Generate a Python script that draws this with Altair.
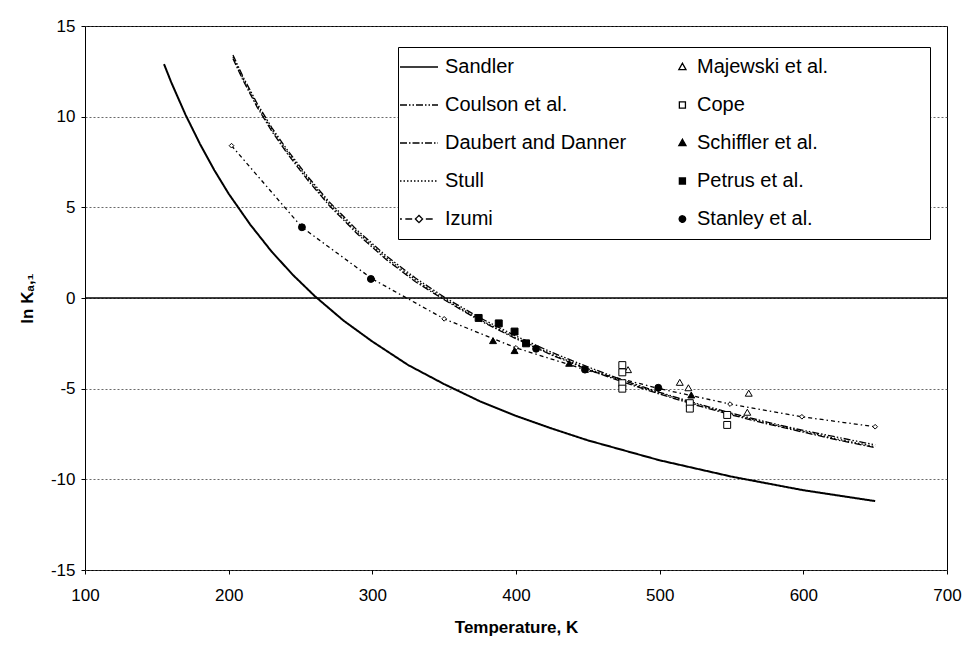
import altair as alt
import pandas as pd

# ---------------- data ----------------
series_order = ["Sandler", "Coulson et al.", "Daubert and Danner", "Stull", "Izumi",
                "Majewski et al.", "Cope", "Schiffler et al.", "Petrus et al.",
                "Stanley et al."]

temp_sandler = [155, 160, 170, 180, 190, 200, 215, 230, 245, 260, 280, 300, 325,
                350, 375, 400, 425, 450, 475, 500, 550, 600, 650]
lnk_sandler = [12.9, 11.9, 10.1, 8.5, 7.05, 5.75, 4.05, 2.55, 1.25, 0.1, -1.25, -2.4,
               -3.7, -4.75, -5.7, -6.5, -7.2, -7.85, -8.4, -8.95, -9.85, -10.6, -11.2]

temp_corr = [203, 210, 220, 230, 240, 255, 270, 290, 310, 330, 350, 375, 400, 425,
             450, 475, 500, 525, 550, 575, 600, 625, 650]
lnk_coulson = [13.4, 12.2, 10.7, 9.4, 8.25, 6.7, 5.3, 3.7, 2.3, 1.1, 0.05, -1.1, -2.1,
               -3.0, -3.8, -4.55, -5.2, -5.8, -6.35, -6.85, -7.3, -7.7, -8.1]
lnk_daubert = [13.2, 12.0, 10.5, 9.2, 8.05, 6.5, 5.1, 3.5, 2.1, 0.9, -0.1, -1.25, -2.25,
               -3.15, -3.95, -4.65, -5.3, -5.9, -6.45, -6.95, -7.4, -7.85, -8.25]
lnk_stull = [13.3, 12.1, 10.6, 9.3, 8.15, 6.6, 5.2, 3.6, 2.2, 1.0, -0.05, -1.2, -2.2,
             -3.1, -3.9, -4.6, -5.25, -5.85, -6.4, -6.9, -7.35, -7.8, -8.2]

temp_izumi = [202, 251, 300, 350, 400, 450, 500, 549, 599, 650]
lnk_izumi = [8.4, 3.9, 1.05, -1.15, -2.75, -4.0, -5.0, -5.85, -6.55, -7.1]

temp_majewski = [478, 514, 520, 562, 561]
lnk_majewski = [-3.95, -4.65, -4.95, -5.25, -6.3]
temp_cope = [474, 474, 474, 474, 521, 521, 547, 547]
lnk_cope = [-3.7, -4.1, -4.7, -5.0, -5.8, -6.1, -6.45, -7.0]
temp_schiffler = [384, 399, 437, 522]
lnk_schiffler = [-2.35, -2.9, -3.6, -5.35]
temp_petrus = [374, 388, 399, 407]
lnk_petrus = [-1.1, -1.4, -1.85, -2.5]
temp_stanley = [251, 299, 414, 448, 499]
lnk_stanley = [3.9, 1.05, -2.8, -3.95, -4.95]

x_ticks = [100, 200, 300, 400, 500, 600, 700]
y_ticks = [-15, -10, -5, 0, 5, 10, 15]

# ---------------- tables ----------------
def frame(name, xs, ys):
    return pd.DataFrame({"series": name, "T": xs, "lnK": ys})

sandler_df = frame("Sandler", temp_sandler, lnk_sandler)
dashed_df = pd.concat([
    frame("Coulson et al.", temp_corr, lnk_coulson),
    frame("Daubert and Danner", temp_corr, lnk_daubert),
    frame("Stull", temp_corr, lnk_stull),
])
izumi_df = frame("Izumi", temp_izumi, lnk_izumi)
exp_df = pd.concat([
    frame("Majewski et al.", temp_majewski, lnk_majewski),
    frame("Cope", temp_cope, lnk_cope),
    frame("Schiffler et al.", temp_schiffler, lnk_schiffler),
    frame("Petrus et al.", temp_petrus, lnk_petrus),
    frame("Stanley et al.", temp_stanley, lnk_stanley),
])
zero_df = pd.DataFrame({"lnK": [0]})

# ---------------- styles ----------------
FONT = "Liberation Sans"
exp_names = ["Majewski et al.", "Cope", "Schiffler et al.", "Petrus et al.", "Stanley et al."]
exp_shapes = ["triangle-up", "square", "triangle-up", "square", "circle"]
exp_fills = ["white", "white", "black", "black", "black"]
dash_range = [[1, 0], [7, 2, 1.5, 2, 1.5, 2], [7, 2, 1.5, 2], [1.5, 2], [1, 0],
              [1, 0], [1, 0], [1, 0], [1, 0], [1, 0]]

# legend symbols drawn in a 38-px slot (unit = 19 px); markers sit right of centre
izumi_path = "M-1,0H-0.9M-0.72,0H-0.36M-0.19,0L0,-0.19L0.19,0L0,0.19ZM0.36,0H0.72"
tri_path = "M0.6,-0.2L0.79,0.14L0.41,0.14Z"
sq_path = "M0.44,-0.16H0.76V0.16H0.44Z"
circ_path = "M0.77,0A0.17,0.17,0,1,1,0.43,0A0.17,0.17,0,1,1,0.77,0Z"
shape_expr = (
    f"datum.value === 'Izumi' ? '{izumi_path}' : "
    f"(datum.value === 'Majewski et al.' || datum.value === 'Schiffler et al.') ? '{tri_path}' : "
    f"(datum.value === 'Cope' || datum.value === 'Petrus et al.') ? '{sq_path}' : "
    f"datum.value === 'Stanley et al.' ? '{circ_path}' : 'stroke'"
)
fill_expr = "indexof(['Schiffler et al.','Petrus et al.','Stanley et al.'], datum.value) >= 0 ? 'black' : 'white'"
pad_chars = "\u00a0" * 18 + "\u200b"
label_expr = f"datum.label === 'Majewski et al.' ? datum.label + '{pad_chars}' : datum.label"

leg = alt.Legend(
    title=None, orient="none", legendX=313, legendY=21, columns=2,
    direction="vertical",
    symbolType=alt.ExprRef(expr=shape_expr),
    symbolSize=1444,
    symbolFillColor=alt.ExprRef(expr=fill_expr),
    symbolStrokeWidth=1.3,
    symbolStrokeColor="black", symbolOpacity=1,
    labelFontSize=20, labelFont=FONT, labelColor="black", labelOffset=6,
    labelExpr=label_expr, labelLimit=400,
    clipHeight=38, rowPadding=0, columnPadding=24, padding=1,
    strokeColor="black", fillColor="white",
)

x_enc = alt.X("T:Q", scale=alt.Scale(domain=[100, 700], nice=False, zero=False),
              axis=alt.Axis(values=x_ticks, title="Temperature, K", grid=False,
                            domain=False, tickColor="black", tickSize=4,
                            labelFlush=False, labelPadding=13, titlePadding=16,
                            labelExpr="'' + datum.value"))
y_enc = alt.Y("lnK:Q", scale=alt.Scale(domain=[-15, 15], nice=False, zero=False),
              axis=alt.Axis(values=y_ticks, title="ln Kₐ,₁", grid=True,
                            gridDash=[2, 2], gridColor="#444", gridWidth=0.8,
                            domain=False, tickColor="black", tickSize=4,
                            labelFlush=False, labelPadding=6, titlePadding=14,
                            labelExpr="'' + datum.value"))

dash_enc = alt.StrokeDash("series:N", scale=alt.Scale(domain=series_order, range=dash_range), legend=leg)
shape_enc = alt.Shape("series:N", scale=alt.Scale(domain=exp_names, range=exp_shapes), legend=None)
fill_enc = alt.Fill("series:N", scale=alt.Scale(domain=exp_names, range=exp_fills), legend=None)

zero_rule = alt.Chart(zero_df).mark_rule(color="black", strokeWidth=1.6).encode(y=y_enc)

sandler_line = alt.Chart(sandler_df).mark_line(color="black", strokeWidth=2).encode(
    x=x_enc, y=y_enc, strokeDash=dash_enc)

dashed_lines = alt.Chart(dashed_df).mark_line(color="black", strokeWidth=1.3).encode(
    x=x_enc, y=y_enc, strokeDash=dash_enc)

izumi_line = alt.Chart(izumi_df).mark_line(
    color="black", strokeWidth=1.3, strokeDash=[4, 3, 1.5, 3]).encode(x=x_enc, y=y_enc)

izumi_pts = alt.Chart(izumi_df).mark_point(
    shape="diamond", filled=True, fill="white", stroke="black", strokeWidth=1,
    size=22, opacity=1).encode(x=x_enc, y=y_enc)

exp_pts = alt.Chart(exp_df).mark_point(
    filled=True, stroke="black", strokeWidth=1, size=48, opacity=1).encode(
    x=x_enc, y=y_enc, shape=shape_enc, fill=fill_enc)

chart = alt.layer(zero_rule, sandler_line, dashed_lines, izumi_line, izumi_pts, exp_pts).properties(
    width=862, height=544,
    autosize=alt.AutoSizeParams(type="none"),
    padding={"left": 85, "top": 26, "right": 18, "bottom": 80},
    background="white",
).configure_view(stroke="black", strokeWidth=1).configure_axis(
    labelFont=FONT, titleFont=FONT, labelFontSize=17, titleFontSize=17,
    titleFontWeight="bold", labelColor="black", titleColor="black",
)

chart.save("out.html", embed_options={"renderer": "svg", "actions": False})
